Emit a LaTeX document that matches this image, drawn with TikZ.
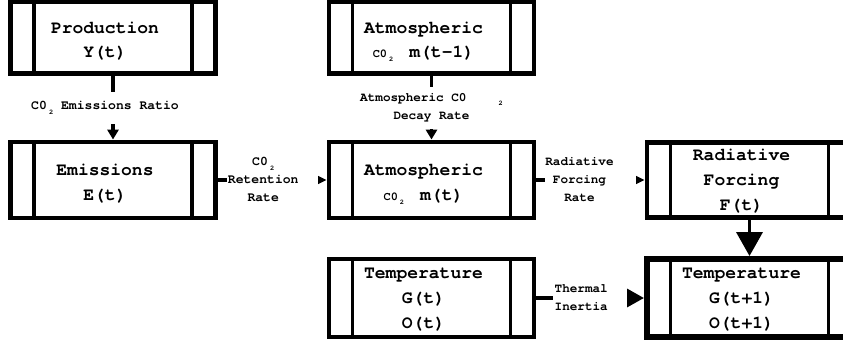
\documentclass[tikz,border=0pt]{standalone}
\usepackage{fontspec}
\setmonofont{texgyrecursor}[Extension=.otf, UprightFont=*-regular, BoldFont=*-bold]
\usetikzlibrary{arrows.meta}
\newcommand{\boxfont}{\ttfamily\bfseries\fontsize{12.8}{17.5}\selectfont}
\newcommand{\lblfont}{\ttfamily\bfseries\fontsize{9}{12.5}\selectfont}
\newcommand{\lblbigfont}{\ttfamily\bfseries\fontsize{9.3}{12.5}\selectfont}
\newcommand{\subtwo}{\raisebox{-3pt}{\fontsize{5}{5}\selectfont 2}}
\newcommand{\smallco}{{\fontsize{8.5}{8.5}\selectfont C0\,\subtwo}}
% box text sits a little left of (and for two lines below) the centre
\newcommand{\boxtext}[2][16.5pt]{\begin{tabular}{@{}c@{\hspace{0.4cm}}}\rule{0pt}{#1}#2\end{tabular}}
% label text sits left in its gap
\newcommand{\lbltext}[2][0.45cm]{\begin{tabular}{@{}c@{\hspace{#1}}}#2\end{tabular}}
\tikzset{
  procbox/.style={draw, line width=3.5pt, minimum width=5.125cm, minimum height=1.9cm,
    inner ysep=0pt, align=center, font=\boxfont,
    path picture={
      \draw[line width=2.8pt] ([xshift=0.5875cm]path picture bounding box.north west) -- ([xshift=0.5875cm]path picture bounding box.south west);
      \draw[line width=2.8pt] ([xshift=-0.5875cm]path picture bounding box.north east) -- ([xshift=-0.5875cm]path picture bounding box.south east);
    }},
  flowline/.style={line width=2.6pt},
  lbl/.style={fill=white, inner sep=0pt, align=center, font=\lblfont},
}
\begin{document}
\begin{tikzpicture}[x=0.025cm, y=-0.025cm]
  \useasboundingbox (0,0) rectangle (843,343);
  \clip (0,0) rectangle (843,343);
  % top row
  \node[procbox, minimum height=1.8cm] (prod) at (113,37.5) {\boxtext{Production\\Y(t)}};
  \node[procbox, minimum height=1.8cm] (atmprev) at (431.5,37.5) {\boxtext{Atmospheric\\\smallco\hspace{0.4cm}m(t-1)}};
  % middle row
  \node[procbox] (emis) at (113,180) {\boxtext{Emissions\\E(t)}};
  \node[procbox] (atm) at (431.5,180) {\boxtext{Atmospheric\\\smallco\hspace{0.4cm}m(t)}};
  \node[procbox, minimum height=1.875cm] (rad) at (749.5,180) {\boxtext[13pt]{Radiative\\Forcing\\F(t)}};
  % bottom row
  \node[procbox, minimum height=1.95cm] (tempnow) at (431.5,298) {\boxtext[13pt]{Temperature\\G(t)\\O(t)}};
  \node[procbox, minimum height=1.95cm, line width=4.2pt] (tempnext) at (749.5,298) {\boxtext[13pt]{Temperature\\G(t+1)\\O(t+1)}};
  % connectors
  \draw[flowline, -{Triangle[width=7.8pt,length=7pt]}] (prod) -- node[lbl, minimum height=0.8cm, xshift=-0.2cm, font=\lblbigfont] {C0\,\subtwo\ Emissions Ratio} (emis);
  \draw[flowline, -{Triangle[width=7.8pt,length=7pt]}] (atmprev) -- node[lbl, minimum height=1.05cm] {Atmospheric C0\hspace{0.8cm}\subtwo\\Decay Rate} (atm);
  \draw[flowline, -{Triangle[width=5.7pt,length=6.4pt]}] (emis) -- node[lbl, minimum width=2.275cm, font=\lblbigfont] {\lbltext{C0\,\subtwo\\Retention\\Rate}} (atm);
  \draw[flowline, -{Triangle[width=5.7pt,length=6.4pt]}] (atm) -- node[lbl, minimum width=2.275cm] {\lbltext[0.55cm]{Radiative\\Forcing\\Rate}} (rad);
  \draw[flowline, -{Triangle[width=13.5pt,length=12.8pt]}] (tempnow) -- node[lbl, minimum width=1.85cm] {\lbltext{Thermal\\Inertia}} (tempnext);
  \draw[flowline, -{Triangle[width=18.4pt,length=17pt]}] (rad) -- (tempnext);
\end{tikzpicture}
\end{document}
